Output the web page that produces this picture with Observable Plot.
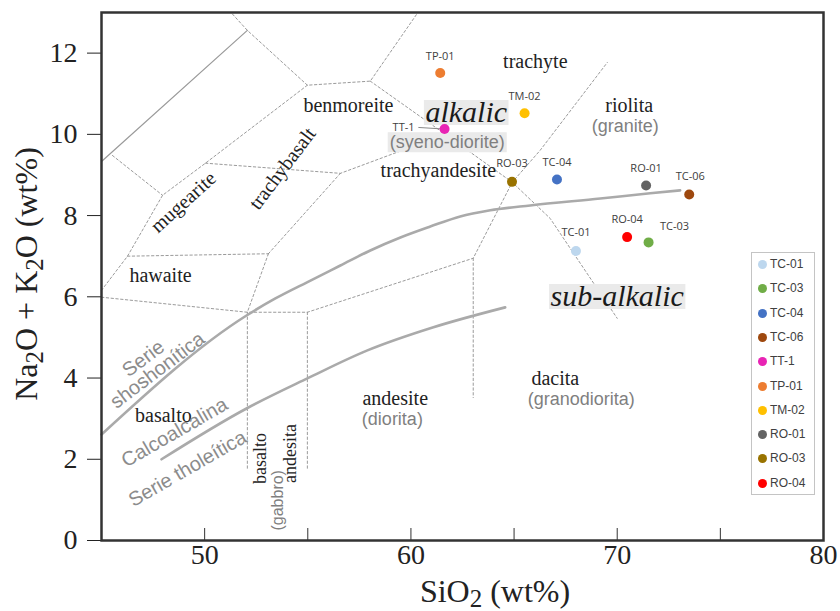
<!DOCTYPE html>
<html>
<head>
<meta charset="utf-8">
<script src="https://cdn.jsdelivr.net/npm/d3@7"></script>
<script src="https://cdn.jsdelivr.net/npm/@observablehq/plot@0.6"></script>
<style>
  body { margin: 0; background: #fff; }
  #wrap { position: relative; width: 840px; height: 611px; overflow: hidden; }
  #legend { position: absolute; left: 751px; top: 252px; width: 64px; height: 243px; box-sizing: border-box;
            border: 1px solid #c4c4c4; background: #fff; font-family: "Liberation Sans", Arial, sans-serif;
            font-size: 12px; color: #404040; }
  .li { position: absolute; left: 6px; height: 14px; line-height: 14px; white-space: nowrap; }
  .li span.d { display: inline-block; width: 9px; height: 9px; border-radius: 50%; vertical-align: -1px; margin-right: 3px; }
</style>
</head>
<body>
<div id="wrap"></div>
<script>
// ---- sample data ----
const sampleNames  = ["TC-01","TC-03","TC-04","TC-06","TT-1","TP-01","TM-02","RO-01","RO-03","RO-04"];
const sampleSiO2   = [68.0, 71.52, 67.08, 73.49, 61.63, 61.42, 65.51, 71.40, 64.90, 70.48];
const sampleAlkali = [7.13, 7.34, 8.89, 8.52, 10.13, 11.51, 10.52, 8.74, 8.83, 7.47];
const sampleColors = ["#bdd7ee","#70ad47","#4472c4","#9e480e","#e824b4","#ed7d31","#ffc000","#636363","#997300","#ff0000"];

// ---- axis ticks ----
const yTicks = [0, 2, 4, 6, 8, 10, 12];
const xLabelTicks = [50, 60, 70, 80];
const xMinorTicks = [50, 55, 60, 65, 70, 75];

// ---- TAS field boundaries (dashed), [SiO2, Na2O+K2O] ----
const fieldBoundaries = [
  [[51.35,12.96],[52.07,12.56],[54.98,11.21],[58.03,11.31],[60.31,12.98]],
  [[58.03,11.31],[61.67,10.0],[64.91,8.82],[66.75,7.93],[70.0,5.47]],
  [[54.98,11.21],[50.04,9.29],[47.96,8.50],[46.26,7.0],[45.0,6.16]],
  [[45.53,9.48],[47.96,8.50]],
  [[50.04,9.29],[56.58,9.04],[61.67,10.0]],
  [[46.26,7.0],[53.09,7.06]],
  [[53.09,7.06],[56.58,9.04]],
  [[53.09,7.06],[52.07,5.62]],
  [[45.0,5.99],[52.07,5.62],[54.98,5.62],[63.02,6.95],[64.91,8.82],[66.27,9.61],[69.52,11.77]],
  [[52.07,5.62],[52.07,1.77]],
  [[54.98,5.62],[54.98,1.72]],
  [[63.02,6.95],[63.02,3.52]]
];
const thinBoundary = [[45.0,9.33],[52.07,12.56]];
// alkalic / sub-alkalic curve and calc-alkaline / tholeiitic curve
const alkalicCurve = [[45,2.61],[52.03,5.54],[53.43,5.96],[55.13,6.40],[56.58,6.77],[58.03,7.14],[59.49,7.46],[60.94,7.73],[62.39,7.98],[63.85,8.13],[65.78,8.25],[69.18,8.42],[71.60,8.55],[73.05,8.62]];
const tholeiiticCurve = [[47.91,2.0],[52.03,3.25],[54.98,3.99],[57.89,4.68],[61.09,5.25],[64.57,5.74]];

// ---- annotations ----
const rockNames = ["benmoreite","trachyte","riolita","trachyandesite","hawaite","basalto","andesite","dacita"];
const rockX     = [56.97, 66.03, 70.58, 61.33, 47.86, 48.0, 59.24, 67.0];
const rockY     = [10.71, 11.80, 10.71, 9.11, 6.53, 3.08, 3.50, 3.99];
const rotNames  = ["mugearite","trachybasalt"];
const rotX      = [48.97, 53.77];
const rotY      = [8.33, 9.16];
const rotAngle  = [-42, -53];
const vertNames = ["basalto","andesita"];
const vertX     = [52.70, 54.16];
const vertY     = [2.02, 2.14];
const plutonicNames = ["(granite)","(syeno-diorite)","(diorita)","(granodiorita)"];
const plutonicX     = [70.39, 61.76, 59.10, 68.26];
const plutonicY     = [10.20, 9.80, 2.98, 3.47];
const gabbroLabel = {text: "(gabbro)", x: 53.53, y: 0.99};
const seriesNames = ["Serie","shoshonítica","Calcoalcalina","Serie tholeítica"];
const seriesX     = [47.03, 47.71, 48.54, 49.17];
const seriesY     = [4.48, 4.19, 2.66, 1.77];
const seriesAngle = [-37, -37, -30, -30];
const seriesNames2 = ["alkalic","sub-alkalic"];
const seriesX2     = [62.68, 70.0];
const seriesY2     = [10.54, 6.01];
const ttLeaderStart = [60.36, 10.17];

// ---- build tables ----
const samples = sampleNames.map((name, i) => ({name, x: sampleSiO2[i], y: sampleAlkali[i]}));
const dashedRows = fieldBoundaries.flatMap((seg, id) => seg.map(([x, y]) => ({id, x, y})));
const toRows = arr => arr.map(([x, y]) => ({x, y}));
const rocks = rockNames.map((t, i) => ({t, x: rockX[i], y: rockY[i]}));
const rots = rotNames.map((t, i) => ({t, x: rotX[i], y: rotY[i], a: rotAngle[i]}));
const verts = vertNames.map((t, i) => ({t, x: vertX[i], y: vertY[i]}));
const plutonics = plutonicNames.map((t, i) => ({t, x: plutonicX[i], y: plutonicY[i]}));
const series = seriesNames.map((t, i) => ({t, x: seriesX[i], y: seriesY[i], a: seriesAngle[i]}));
const series2 = seriesNames2.map((t, i) => ({t, x: seriesX2[i], y: seriesY2[i]}));

// label placement (pixel offsets)
const place = {
  "TP-01": [0, -17, "middle"], "TM-02": [0, -17, "middle"], "TC-04": [0, -17, "middle"],
  "RO-03": [0, -18, "middle"], "RO-01": [0, -17, "middle"], "TC-06": [1, -18, "middle"],
  "RO-04": [0, -18, "middle"], "TC-03": [26, -16, "middle"], "TC-01": [0, -18, "middle"],
  "TT-1": [-30, -2, "end"]
};

const serif = "'Liberation Serif','Times New Roman',Times,serif";
const sans = "'Liberation Sans',Arial,Helvetica,sans-serif";
const labelFont = "'Open Sans','Liberation Sans',Arial,sans-serif";

const marks = [
  Plot.line(dashedRows, {x: "x", y: "y", z: "id", stroke: "#8f8f8f", strokeWidth: 0.9, strokeDasharray: "2.4,2.4"}),
  Plot.line(toRows(thinBoundary), {x: "x", y: "y", stroke: "#9a9a9a", strokeWidth: 1.2}),
  Plot.line(toRows(alkalicCurve), {x: "x", y: "y", curve: "monotone-x", stroke: "#aaaaaa", strokeWidth: 2.6}),
  Plot.line(toRows(tholeiiticCurve), {x: "x", y: "y", curve: "monotone-x", stroke: "#aaaaaa", strokeWidth: 2.6}),
  Plot.text(rocks, {x: "x", y: "y", text: "t", fontFamily: serif, fontSize: 20, fill: "#222"}),
  ...rots.map(d => Plot.text([d], {x: "x", y: "y", text: "t", rotate: d.a, fontFamily: serif, fontSize: 20, fill: "#222"})),
  Plot.text(verts, {x: "x", y: "y", text: "t", rotate: -90, fontFamily: serif, fontSize: 18, fill: "#222"}),
  Plot.text(plutonics, {x: "x", y: "y", text: "t", fontFamily: sans, fontSize: 18, fill: "#7f7f7f"}),
  Plot.text([gabbroLabel], {x: "x", y: "y", text: "text", rotate: -90, fontFamily: sans, fontSize: 16, fill: "#7f7f7f"}),
  ...series.map(d => Plot.text([d], {x: "x", y: "y", text: "t", rotate: d.a, fontFamily: sans, fontSize: 20, fill: "#8c8c8c"})),
  Plot.text(series2, {x: "x", y: "y", text: "t", fontFamily: serif, fontStyle: "italic", fontSize: 30, fill: "#1a1a1a"}),
  Plot.link([samples.find(d => d.name === "TT-1")], {x1: () => ttLeaderStart[0], y1: () => ttLeaderStart[1], x2: "x", y2: "y", stroke: "#8a8a8a", strokeWidth: 1}),
  Plot.dot(samples, {x: "x", y: "y", r: 5, fill: "name"}),
  ...samples.map(d => Plot.text([d], {x: "x", y: "y", text: "name", dx: place[d.name][0], dy: place[d.name][1], textAnchor: place[d.name][2], fontFamily: labelFont, fontSize: 11, fill: "#404040"})),
  Plot.axisY({ticks: yTicks, tickSize: 14, tickPadding: 10, fontSize: 28, fontFamily: serif, color: "#222", label: null}),
  Plot.axisX({ticks: xLabelTicks, tickSize: 0, tickPadding: 4, fontSize: 28, fontFamily: serif, color: "#222", label: null}),
  Plot.axisX({ticks: xMinorTicks, tickSize: 12, dy: -12, tickFormat: () => "", color: "#333", label: null}),
  Plot.frame({stroke: "#333", strokeWidth: 2.5})
];

const svg = Plot.plot({
  width: 840, height: 611,
  marginLeft: 101, marginRight: 17, marginTop: 12, marginBottom: 71,
  style: {fontFamily: serif, background: "#fff", overflow: "visible"},
  x: {domain: [45, 80]},
  y: {domain: [0, 13]},
  color: {domain: sampleNames, range: sampleColors},
  marks
});

const wrap = document.getElementById("wrap");
wrap.appendChild(svg);

// gray boxes behind the series labels
const boxed = {"alkalic": [1.5, 5, 8], "sub-alkalic": [1.5, 5, 8], "(syeno-diorite)": [2, 0, 0]};
d3.select(svg).selectAll("text").each(function() {
  const t = this.textContent;
  if (!(t in boxed)) return;
  const [px, top, trim] = boxed[t];
  const bb = this.getBBox();
  const r = document.createElementNS("http://www.w3.org/2000/svg", "rect");
  r.setAttribute("x", bb.x - px);
  r.setAttribute("y", bb.y + top);
  r.setAttribute("width", bb.width + 2 * px);
  r.setAttribute("height", bb.height - trim);
  r.setAttribute("fill", "#eaeaea");
  const tr = this.getAttribute("transform");
  if (tr) r.setAttribute("transform", tr);
  this.parentNode.insertBefore(r, this);
});

// axis titles with subscripts
const s = d3.select(svg);
const yl = s.append("text")
  .attr("transform", "translate(37,274) rotate(-90)")
  .attr("text-anchor", "middle")
  .attr("font-family", serif).attr("font-size", 32).attr("fill", "#222");
[["Na",0],["2",1],["O + K",0],["2",1],["O (wt%)",0]].forEach(([t, sub]) => {
  const ts = yl.append("tspan").text(t);
  if (sub) ts.attr("font-size", 25).attr("dy", "0.22em");
  else if (t !== "Na") ts.attr("dy", "-0.17em");
});
const xl = s.append("text")
  .attr("transform", "translate(495,602)")
  .attr("text-anchor", "middle")
  .attr("font-family", serif).attr("font-size", 32).attr("fill", "#222");
[["SiO",0],["2",1],[" (wt%)",0]].forEach(([t, sub]) => {
  const ts = xl.append("tspan").text(t);
  if (sub) ts.attr("font-size", 25).attr("dy", "0.2em");
  else if (t !== "SiO") ts.attr("dy", "-0.16em");
});

// legend
const lg = document.createElement("div");
lg.id = "legend";
sampleNames.forEach((n, i) => {
  const it = document.createElement("div");
  it.className = "li";
  it.style.top = (4 + i * 24.3) + "px";
  it.innerHTML = `<span class="d" style="background:${sampleColors[i]}"></span>${n}`;
  lg.appendChild(it);
});
wrap.appendChild(lg);
</script>
</body>
</html>
